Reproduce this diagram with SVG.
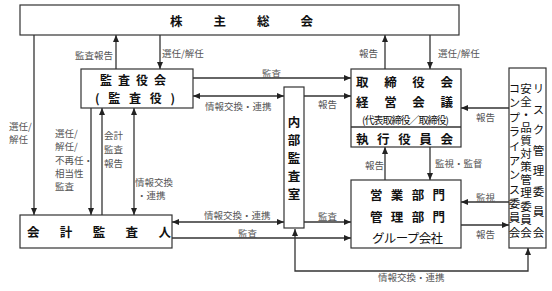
<svg xmlns="http://www.w3.org/2000/svg" width="552" height="291" viewBox="0 0 552 291">
<defs>
<marker id="ah" viewBox="0 0 7 6" refX="7" refY="3" markerWidth="7" markerHeight="6" markerUnits="userSpaceOnUse" orient="auto-start-reverse">
<path d="M0,0 L7,3 L0,6 z" fill="#222"/>
</marker>
<style>
.box{fill:#fff;stroke:#333;stroke-width:1.2}
.ln{fill:none;stroke:#333;stroke-width:1.3}
.e{marker-end:url(#ah)}
.b{marker-start:url(#ah);marker-end:url(#ah)}
.t{font-family:"Noto Sans CJK JP","Noto Sans CJK SC",sans-serif;font-size:12.5px;font-weight:700;fill:#111;dominant-baseline:central}
.s{font-family:"Noto Sans CJK JP","Noto Sans CJK SC",sans-serif;font-size:9.5px;fill:#555;dominant-baseline:central}
.v{font-family:"Noto Sans CJK JP","Noto Sans CJK SC",sans-serif;font-size:11.5px;fill:#111;writing-mode:vertical-rl;dominant-baseline:central}
</style>
</defs>
<rect width="552" height="291" fill="#fff"/>

<g id="connectors">
<line class="ln e" x1="116" y1="69" x2="116" y2="35"/>
<line class="ln e" x1="160" y1="35" x2="160" y2="69"/>
<line class="ln e" x1="34" y1="35" x2="34" y2="215"/>
<line class="ln e" x1="385" y1="69" x2="385" y2="35"/>
<line class="ln e" x1="430" y1="35" x2="430" y2="69"/>
<line class="ln e" x1="193" y1="78" x2="351" y2="78"/>
<line class="ln b" x1="193" y1="96" x2="284" y2="96"/>
<line class="ln e" x1="304" y1="96" x2="351" y2="96"/>
<line class="ln e" x1="509" y1="108" x2="461" y2="108"/>
<line class="ln e" x1="91" y1="108" x2="91" y2="215"/>
<line class="ln e" x1="102" y1="215" x2="102" y2="108"/>
<line class="ln b" x1="134" y1="108" x2="134" y2="215"/>
<line class="ln b" x1="172" y1="222" x2="284" y2="222"/>
<line class="ln e" x1="172" y1="238" x2="351" y2="238"/>
<line class="ln e" x1="304" y1="222" x2="351" y2="222"/>
<line class="ln e" x1="385" y1="180" x2="385" y2="147"/>
<line class="ln e" x1="430" y1="147" x2="430" y2="180"/>
<line class="ln e" x1="509" y1="202" x2="461" y2="202"/>
<line class="ln e" x1="461" y1="225" x2="509" y2="225"/>
<polyline class="ln b" points="295,229 295,271 528,271 528,248"/>

<text class="s" x="113" y="55" text-anchor="end">監査報告</text>
<text class="s" x="162" y="53">選任/解任</text>
<text class="s" x="359" y="53">報告</text>
<text class="s" x="438" y="53">選任/解任</text>
<text class="s" x="262" y="73">監査</text>
<text class="s" x="205" y="106">情報交換・連携</text>
<text class="s" x="318" y="104">報告</text>
<text class="s" x="476" y="117">報告</text>
<text class="s" x="9"><tspan x="9" y="126">選任/</tspan><tspan x="9" y="139">解任</tspan></text>
<text class="s"><tspan x="55" y="133">選任/</tspan><tspan x="55" y="146">解任/</tspan><tspan x="55" y="160">不再任・</tspan><tspan x="55" y="173">相当性</tspan><tspan x="55" y="186">監査</tspan></text>
<text class="s"><tspan x="104" y="135">会計</tspan><tspan x="104" y="149">監査</tspan><tspan x="104" y="163">報告</tspan></text>
<text class="s"><tspan x="135" y="182">情報交換</tspan><tspan x="137" y="195">・連携</tspan></text>
<text class="s" x="365" y="165">報告</text>
<text class="s" x="435" y="163">監視・監督</text>
<text class="s" x="476" y="197">監視</text>
<text class="s" x="476" y="234">報告</text>
<text class="s" x="204" y="215">情報交換・連携</text>
<text class="s" x="238" y="233">監査</text>
<text class="s" x="318" y="216">監査</text>
<text class="s" x="378" y="277">情報交換・連携</text>
</g>

<g id="shareholders">
<rect class="box" x="20" y="5" width="439" height="30"/>
<text class="t" x="170" y="20" textLength="143" lengthAdjust="spacing">株主総会</text>
</g>

<g id="audit-board">
<rect class="box" x="81" y="69" width="112" height="39"/>
<text class="t" x="100" y="79.5" style="font-size:12px" textLength="66" lengthAdjust="spacing">監査役会</text>
<text class="t" x="95" y="97" style="font-size:12px" textLength="80" lengthAdjust="spacing">(監査役)</text>
</g>

<g id="board">
<rect class="box" x="351" y="69" width="110" height="78"/>
<line class="ln" x1="351" y1="127" x2="461" y2="127"/>
<text class="t" x="356" y="81" textLength="97" lengthAdjust="spacing">取締役会</text>
<text class="t" x="356" y="101" textLength="97" lengthAdjust="spacing">経営会議</text>
<text class="t" x="362" y="119" style="font-size:10px;font-weight:400" textLength="87" lengthAdjust="spacing">(代表取締役／取締役)</text>
<text class="t" x="356" y="138" textLength="97" lengthAdjust="spacing">執行役員会</text>
</g>

<g id="internal-audit">
<rect class="box" x="284" y="87" width="20" height="141"/>
<text class="v" x="294" y="116" style="font-weight:700;font-size:12.5px" textLength="84" lengthAdjust="spacing">内部監査室</text>
</g>

<g id="accounting-auditor">
<rect class="box" x="20" y="215" width="152" height="33"/>
<text class="t" x="27" y="231" textLength="144" lengthAdjust="spacing">会計監査人</text>
</g>

<g id="business">
<rect class="box" x="351" y="180" width="110" height="68"/>
<text class="t" x="370" y="194" textLength="75" lengthAdjust="spacing">営業部門</text>
<text class="t" x="370" y="216" textLength="75" lengthAdjust="spacing">管理部門</text>
<text class="t" x="372" y="237" style="font-weight:400" textLength="71" lengthAdjust="spacing">グループ会社</text>
</g>

<g id="committees">
<rect class="box" x="509" y="68" width="37" height="180"/>
<text class="v" x="538.5" y="83" textLength="155" lengthAdjust="spacing">リスク管理委員会</text>
<text class="v" x="526" y="83" textLength="155" lengthAdjust="spacing">安全・品質対策管理委員会</text>
<text class="v" x="514.5" y="83" textLength="155" lengthAdjust="spacing">コンプライアンス委員会</text>
</g>
</svg>
